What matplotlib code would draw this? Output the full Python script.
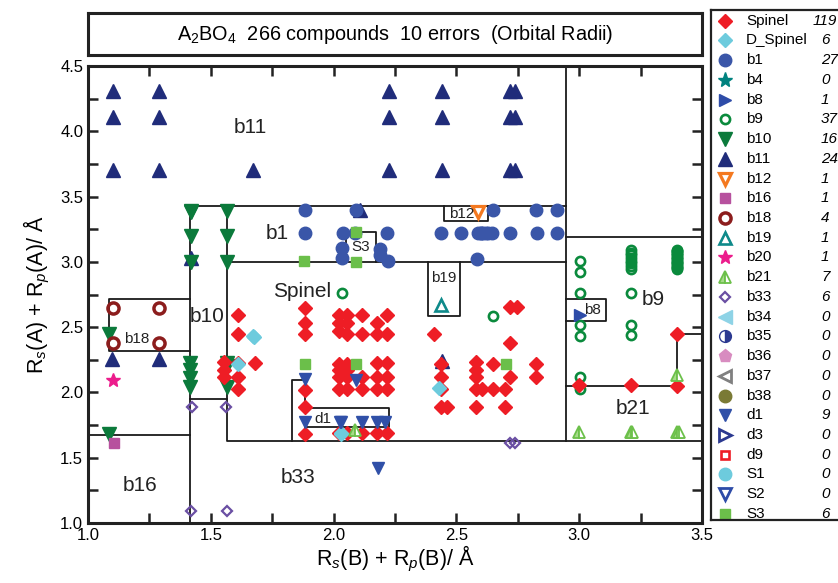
import matplotlib
matplotlib.use('Agg')
import matplotlib.pyplot as plt
from matplotlib.ticker import MultipleLocator

plt.rcParams['font.family'] = ['Liberation Sans', 'DejaVu Sans']
plt.rcParams['mathtext.fontset'] = 'custom'
plt.rcParams['mathtext.rm'] = 'Liberation Sans'
plt.rcParams['mathtext.it'] = 'Liberation Sans:italic'

# ---------------- data ----------------
spinel_x = ([1.555] * 3 + [1.612] * 5 + [1.68] + [1.884] * 6 + [2.02] * 8 + [2.055] * 8
            + [2.114] * 5 + [2.175] * 6 + [2.216] * 6 + [2.41] + [2.437] * 4 + [2.46]
            + [2.58] * 5 + [2.603] + [2.65] * 2 + [2.698] * 2 + [2.72] * 3 + [2.745]
            + [2.824] * 2 + [3.40, 3.00, 3.21, 3.40])
spinel_y = ([2.23, 2.17, 2.12] + [2.59, 2.445, 2.225, 2.12, 2.03] + [2.225]
            + [2.645, 2.53, 2.45, 2.02, 1.89, 1.68]
            + [2.59, 2.53, 2.47, 2.22, 2.17, 2.116, 2.03, 1.69]
            + [2.59, 2.53, 2.45, 2.22, 2.17, 2.116, 2.03, 1.69]
            + [2.59, 2.45, 2.116, 2.03, 1.69]
            + [2.53, 2.45, 2.225, 2.116, 2.03, 1.69]
            + [2.593, 2.45, 2.225, 2.116, 2.03, 1.69]
            + [2.445] + [2.22, 2.116, 2.03, 1.89] + [1.89]
            + [2.23, 2.17, 2.116, 2.03, 1.89] + [2.03] + [2.22, 2.03] + [2.03, 1.89]
            + [2.376, 2.116, 2.656] + [2.656] + [2.22, 2.116]
            + [2.445, 2.055, 2.055, 2.05])

dspinel_x = [1.673, 1.612, 2.029, 2.43, 1.675, 2.03]
dspinel_y = [2.43, 2.22, 1.69, 2.036, 2.425, 1.685]

b1_x = [1.884, 2.09, 2.649, 2.824, 2.908,
        1.884, 2.04, 2.087, 2.217, 2.437, 2.52, 2.587, 2.61, 2.63, 2.646, 2.718, 2.827, 2.908,
        2.033, 2.033, 2.19, 2.19, 2.22, 2.583, 2.60, 2.62, 2.60]
b1_y = [3.40] * 5 + [3.218] * 13 + [3.105, 3.03, 3.10, 3.05, 3.01, 3.02, 3.218, 3.218, 3.218]

b8_x = [3.003]
b8_y = [2.59]

b9_x = ([3.003] * 7 + [3.21] * 11 + [3.40] * 17 + [2.65, 2.033])
b9_y = ([3.01, 2.925, 2.76, 2.52, 2.43, 2.12, 2.03]
        + [3.09, 3.07, 3.05, 3.03, 3.01, 2.99, 2.97, 2.945, 2.76, 2.52, 2.44]
        + [3.09, 3.08, 3.07, 3.06, 3.05, 3.04, 3.03, 3.02, 3.01, 3.00, 2.99, 2.98,
           2.97, 2.96, 2.95, 2.945, 3.085]
        + [2.587, 2.76])

b10_x = [1.42, 1.42, 1.42, 1.565, 1.565, 1.565, 1.084, 1.084,
         1.415, 1.415, 1.415, 1.415, 1.565, 1.565, 1.565, 1.42]
b10_y = [3.39, 3.20, 3.00, 3.39, 3.20, 3.00, 2.447, 1.68,
         2.225, 2.17, 2.11, 2.04, 2.225, 2.20, 2.04, 3.38]

b11_x = ([1.10] * 3 + [1.29] * 3 + [1.67] + [2.225] * 3 + [2.44] * 3 + [2.718] * 3
         + [2.74] * 3 + [2.107, 1.42, 1.098, 1.29, 2.44])
b11_y = ([4.31, 4.11, 3.70] * 2 + [3.70] + [4.31, 4.11, 3.70] * 4
         + [3.40, 3.03, 2.255, 2.255, 2.24])

b12_x = [2.587]
b12_y = [3.385]

b16_x = [1.105]
b16_y = [1.615]

b18_x = [1.10, 1.288, 1.10, 1.288]
b18_y = [2.65, 2.65, 2.38, 2.38]

b19_x = [2.437]
b19_y = [2.67]

b20_x = [1.10]
b20_y = [2.095]

b21_x = [3.0, 3.21, 3.215, 3.40, 3.405, 3.40, 2.087]
b21_y = [1.70, 1.70, 1.70, 1.70, 1.70, 2.13, 1.71]

b33_x = [1.425, 1.562, 1.42, 1.565, 2.72, 2.74]
b33_y = [1.89, 1.89, 1.094, 1.094, 1.615, 1.615]

d1_x = [1.884, 2.09, 1.884, 2.026, 2.114, 2.175, 2.21, 2.18, 2.03]
d1_y = [2.10, 2.095, 1.775, 1.775, 1.775, 1.77, 1.77, 1.42, 1.775]

s3_x = [1.88, 2.09, 2.09, 1.884, 2.09, 2.70]
s3_y = [3.01, 3.23, 3.00, 2.22, 2.22, 2.22]

legend_labels = ['Spinel', 'D_Spinel', 'b1', 'b4', 'b8', 'b9', 'b10', 'b11', 'b12', 'b16',
                 'b18', 'b19', 'b20', 'b21', 'b33', 'b34', 'b35', 'b36', 'b37', 'b38',
                 'd1', 'd3', 'd9', 'S1', 'S2', 'S3']
legend_counts = ['119', '6', '27', '0', '1', '37', '16', '24', '1', '1', '4', '1', '1', '7',
                 '6', '0', '0', '0', '0', '0', '9', '0', '0', '0', '0', '6']

# region boundaries (polylines)
regions = [
    ([1.415, 1.415, 2.945], [1.0, 3.43, 3.43]),
    ([2.945, 2.945], [4.5, 1.628]),
    ([1.565, 1.565, 3.5], [3.0, 1.628, 1.628]),
    ([1.565, 2.945], [3.0, 3.0]),
    ([1.565, 1.565], [3.43, 3.0]),
    ([1.415, 1.565], [1.95, 1.95]),
    ([1.0, 1.415], [1.674, 1.674]),
    ([1.415, 1.085, 1.085, 1.415], [2.715, 2.715, 2.32, 2.32]),
    ([2.945, 3.5], [3.19, 3.19]),
    ([2.945, 3.4, 3.4, 3.5], [2.05, 2.05, 2.447, 2.447]),
    ([1.829, 1.829, 1.884, 1.884, 2.226, 2.226, 1.884, 1.884],
     [1.628, 2.095, 2.095, 1.88, 1.88, 1.735, 1.735, 1.628]),
    ([2.049, 2.049, 2.172, 2.172], [3.0, 3.228, 3.228, 3.0]),
    ([2.449, 2.449, 2.629, 2.629], [3.43, 3.31, 3.31, 3.43]),
    ([2.385, 2.385, 2.515, 2.515], [3.0, 2.585, 2.585, 3.0]),
    ([2.945, 3.109, 3.109, 2.945], [2.715, 2.715, 2.547, 2.547]),
]

big_labels = [('b11', 1.66, 4.03), ('b1', 1.77, 3.22), ('Spinel', 1.87, 2.77),
              ('b10', 1.485, 2.58), ('b16', 1.21, 1.29), ('b33', 1.855, 1.345),
              ('b9', 3.30, 2.71), ('b21', 3.22, 1.88)]
small_labels = [('b18', 1.2, 2.41), ('d1', 1.955, 1.80), ('S3', 2.11, 3.11),
                ('b12', 2.52, 3.37), ('b19', 2.45, 2.88), ('b8', 3.055, 2.63)]

# ---------------- styles ----------------
RED = '#EE1D25'
styles = {
    'Spinel': dict(marker='D', ms=7.4, color=RED, mec=RED),
    'D_Spinel': dict(marker='D', ms=7.4, color='#6DCBDD', mec='#6DCBDD'),
    'b1': dict(marker='o', ms=9, color='#3A56A8', mec='#3A56A8'),
    'b4': dict(marker='*', ms=11, color='#00827F', mec='#00827F'),
    'b8': dict(marker='>', ms=9, color='#2E4CA8', mec='#2E4CA8'),
    'b9': dict(marker='o', ms=6.6, color='none', mec='#0A8A3C', mew=1.9),
    'b10': dict(marker='v', ms=9.5, color='#0B7A3B', mec='#0B7A3B'),
    'b11': dict(marker='^', ms=9.5, color='#202C7A', mec='#202C7A'),
    'b12': dict(marker='v', ms=9, color='none', mec='#F47920', mew=2.3),
    'b16': dict(marker='s', ms=7.5, color='#B7519E', mec='#B7519E'),
    'b18': dict(marker='o', ms=8, color='none', mec='#8C1D1D', mew=2.5),
    'b19': dict(marker='^', ms=8, color='none', mec='#0E8A8A', mew=1.9),
    'b20': dict(marker='*', ms=10, color='#EC1C8C', mec='#EC1C8C'),
    'b21': dict(marker='^', ms=8.5, color='#A6DB8A', mec='#6CC04A', mew=1.3, fillstyle='left',
                markerfacecoloralt='white'),
    'b33': dict(marker='D', ms=5.6, color='none', mec='#6A4FA3', mew=1.6),
    'b34': dict(marker='<', ms=9.5, color='#8ED3E6', mec='#8ED3E6'),
    'b35': dict(marker='o', ms=8.5, color='#2B3990', mec='#2B3990', fillstyle='right',
                markerfacecoloralt='white'),
    'b36': dict(marker='p', ms=9.5, color='#D88CC0', mec='#D88CC0'),
    'b37': dict(marker='<', ms=8.5, color='none', mec='#808080', mew=2),
    'b38': dict(marker='o', ms=9, color='#7A7A35', mec='#7A7A35'),
    'd1': dict(marker='v', ms=8, color='#3050A8', mec='#3050A8'),
    'd3': dict(marker='>', ms=8.5, color='none', mec='#2B3990', mew=2),
    'd9': dict(marker='s', ms=6.3, color='none', mec=RED, mew=1.9),
    'S1': dict(marker='o', ms=9, color='#6DCBDD', mec='#6DCBDD'),
    'S2': dict(marker='v', ms=8.5, color='none', mec='#2E4CA8', mew=2),
    'S3': dict(marker='s', ms=7, color='#6BBF4A', mec='#6BBF4A'),
}

series = [
    ('b11', b11_x, b11_y), ('b10', b10_x, b10_y), ('b1', b1_x, b1_y), ('b9', b9_x, b9_y),
    ('Spinel', spinel_x, spinel_y), ('D_Spinel', dspinel_x, dspinel_y),
    ('S3', s3_x, s3_y), ('d1', d1_x, d1_y), ('b8', b8_x, b8_y), ('b12', b12_x, b12_y),
    ('b16', b16_x, b16_y), ('b18', b18_x, b18_y), ('b19', b19_x, b19_y),
    ('b20', b20_x, b20_y), ('b21', b21_x, b21_y), ('b33', b33_x, b33_y),
]

# ---------------- figure ----------------
W, H = 838, 583
fig = plt.figure(figsize=(W / 100, H / 100), dpi=100)

def fax(x0, y0, x1, y1):
    return fig.add_axes([x0 / W, 1 - y1 / H, (x1 - x0) / W, (y1 - y0) / H])

ax = fax(88, 66, 702, 523)
ax.set_xlim(1.0, 3.5)
ax.set_ylim(1.0, 4.5)

for xs, ys in regions:
    ax.plot(xs, ys, color='#1a1a1a', lw=1.3, zorder=2)

for name, xs, ys in series:
    st = dict(styles[name])
    ax.plot(xs, ys, linestyle='none', zorder=3, **st)

for t, x, y in big_labels:
    ax.text(x, y, t, fontsize=15, ha='center', va='center', color='#222222', zorder=4)
for t, x, y in small_labels:
    ax.text(x, y, t, fontsize=11, ha='center', va='center', color='#222222', zorder=4)

ax.xaxis.set_major_locator(MultipleLocator(0.5))
ax.xaxis.set_minor_locator(MultipleLocator(0.25))
ax.yaxis.set_major_locator(MultipleLocator(0.5))
ax.yaxis.set_minor_locator(MultipleLocator(0.25))
ax.tick_params(which='both', direction='in', top=True, right=True, width=1.8,
               labelsize=12, color='#222222')
ax.tick_params(which='major', length=7)
ax.tick_params(which='minor', length=7)
for s in ax.spines.values():
    s.set_linewidth(2.2)
    s.set_color('#222222')
ax.set_xlabel('R$_s$(B) + R$_p$(B)/ Å', fontsize=15.5, labelpad=1)
ax.set_ylabel('R$_s$(A) + R$_p$(A)/ Å', fontsize=15.5, labelpad=6)

# title box
tax = fax(88, 13, 702, 55)
tax.set_xticks([])
tax.set_yticks([])
for s in tax.spines.values():
    s.set_linewidth(2.2)
    s.set_color('#222222')
tax.text(0.5, 0.5, 'A$_2$BO$_4$  266 compounds  10 errors  (Orbital Radii)',
         fontsize=14.3, ha='center', va='center', transform=tax.transAxes)

# legend box
lax = fax(711, 10, 850, 520)
lax.set_xlim(711, 850)
lax.set_ylim(520, 10)
lax.set_xticks([])
lax.set_yticks([])
for s in lax.spines.values():
    s.set_linewidth(1.6)
    s.set_color('#222222')
for i, (lab, cnt) in enumerate(zip(legend_labels, legend_counts)):
    yy = 20.7 + i * 19.73
    lax.plot([725], [yy], linestyle='none', **styles[lab])
    lax.text(746, yy, lab, fontsize=11, ha='left', va='center')
    lax.text(821 if len(cnt) < 3 else 813, yy, cnt, fontsize=11, ha='left', va='center',
             style='italic')

fig.savefig('out.png', dpi=100)
